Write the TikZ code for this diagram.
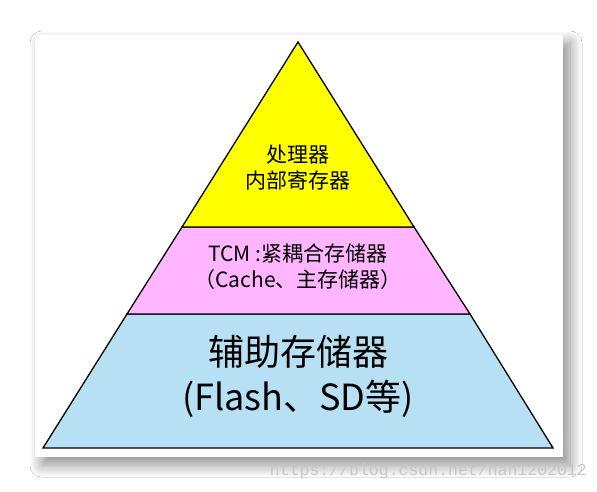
\documentclass[tikz,border=0pt]{standalone}
\usepackage{fontspec}
\newfontfamily\cjk{Noto Sans CJK SC}
\newfontfamily\wm{Liberation Mono}
\usetikzlibrary{shadows.blur}
\definecolor{tyellow}{RGB}{255,255,0}
\definecolor{tpink}{RGB}{255,182,255}
\definecolor{tblue}{RGB}{184,224,244}
\begin{document}
\begin{tikzpicture}[x=1pt,y=-1pt,
  layer/.style={draw=black, line width=1.3pt, line join=miter},
  small/.style={font=\cjk\fontsize{21}{26}\selectfont, align=center, inner sep=0pt},
  big/.style={font=\cjk\fontsize{36}{45}\selectfont, align=center, inner sep=0pt}]
\useasboundingbox (0,0) rectangle (597,492);
\fill[white] (0,0) rectangle (597,492);
\fill[white, blur shadow={shadow xshift=7pt, shadow yshift=-8pt, shadow blur radius=12pt, shadow blur steps=30, shadow opacity=45}] (35,35) rectangle (563,457);
\coordinate (apex) at (298,42);
\coordinate (y1) at (182,227); \coordinate (y2) at (414,227);
\coordinate (p1) at (127,314); \coordinate (p2) at (470,314);
\coordinate (b1) at (43,448);  \coordinate (b2) at (553,448);
\draw[layer, fill=tblue] (p1) -- (p2) -- (b2) -- (b1) -- cycle;
\draw[layer, fill=tpink] (y1) -- (y2) -- (p2) -- (p1) -- cycle;
\draw[layer, fill=tyellow] (apex) -- (y2) -- (y1) -- cycle;
\node[small] (t1) at (298,168) {处理器\\内部寄存器};
\node[small] (t2) at (298,267) {TCM :紧耦合存储器\\（Cache、主存储器）};
\node[big] (t3) at (298,376) {辅助存储器\\(Flash、SD等)};
\node[font=\wm\fontsize{16.5}{16.5}\selectfont, text=black!22, anchor=east, inner sep=0pt] (wm) at (587,471) {https://blog.csdn.net/han1202012};
\end{tikzpicture}
\end{document}
